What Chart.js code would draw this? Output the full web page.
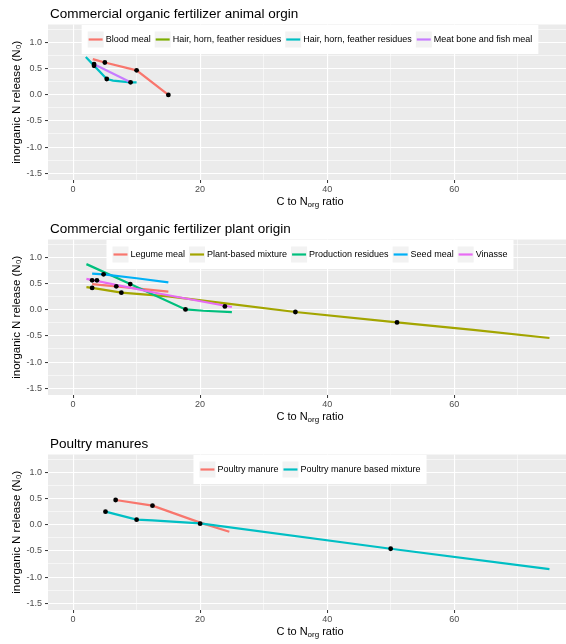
<!DOCTYPE html>
<html>
<head>
<meta charset="utf-8">
<script src="https://cdn.jsdelivr.net/npm/chart.js"></script>
<style>
html, body { margin: 0; padding: 0; background: #fff; overflow: hidden; width: 566px; height: 644px; }
.panel { position: absolute; left: 0; width: 576px; height: 215px; }
</style>
</head>
<body>
<div class="panel" style="top:0px"><canvas id="animal" width="576" height="215"></canvas></div>
<div class="panel" style="top:215px"><canvas id="plant" width="576" height="215"></canvas></div>
<div class="panel" style="top:430px"><canvas id="poultry" width="576" height="215"></canvas></div>
<script>
const xTicks = [0, 20, 40, 60]
const xMinorTicks = [10, 30, 50, 70]
const yTicks = [-1.5, -1.0, -0.5, 0.0, 0.5, 1.0]
const yMinorTicks = [-1.25, -0.75, -0.25, 0.25, 0.75, 1.25]
const xTitle = ['C to N', 'org', ' ratio']
const yTitle = 'inorganic N release (N\u2080)'

// panel 1: animal origin
const animalTitle = 'Commercial organic fertilizer animal orgin'
const animalLabels = ['Blood meal', 'Hair, horn, feather residues', 'Hair, horn, feather residues', 'Meat bone and fish meal']
const animalColors = ['#F8766D', '#7CAE00', '#00BFC4', '#C77CFF']
const bloodMealX = [3.1, 5.0, 10.0, 15.0]
const bloodMealY = [0.68, 0.615, 0.465, -0.005]
const hairGreenX = []
const hairGreenY = []
const hairCyanX = [2.0, 3.3, 5.3, 6.3, 9.05, 10.0]
const hairCyanY = [0.72, 0.555, 0.3, 0.27, 0.236, 0.236]
const meatBoneX = [3.3, 9.05]
const meatBoneY = [0.58, 0.236]
const animalDotX = [3.3, 3.3, 5.0, 10.0, 15.0, 5.3, 9.05]
const animalDotY = [0.585, 0.553, 0.615, 0.465, -0.005, 0.3, 0.236]

// panel 2: plant origin
const plantTitle = 'Commercial organic fertilizer plant origin'
const plantLabels = ['Legume meal', 'Plant-based mixture', 'Production residues', 'Seed meal', 'Vinasse']
const plantColors = ['#F8766D', '#A3A500', '#00BF7D', '#00B0F6', '#E76BF3']
const legumeX = [3.0, 6.8, 15.0]
const legumeY = [0.49, 0.446, 0.345]
const plantMixX = [2.1, 3.0, 7.6, 15.0, 24.0, 35.0, 51.0, 63.0, 75.0]
const plantMixY = [0.43, 0.415, 0.325, 0.254, 0.12, -0.044, -0.243, -0.385, -0.54]
const residuesX = [2.1, 9.0, 17.7, 20.5, 25.0]
const residuesY = [0.87, 0.49, 0.005, -0.02, -0.045]
const seedMealX = [3.0, 4.8, 10.0, 15.0]
const seedMealY = [0.69, 0.675, 0.6, 0.522]
const vinasseX = [2.1, 13.5, 25.0]
const vinasseY = [0.587, 0.31, 0.052]
const plantDotX = [3.0, 3.75, 6.8, 4.8, 9.0, 17.7, 23.9, 3.0, 7.6, 35.0, 51.0]
const plantDotY = [0.56, 0.56, 0.446, 0.675, 0.49, 0.005, 0.063, 0.415, 0.325, -0.044, -0.243]

// panel 3: poultry
const poultryTitle = 'Poultry manures'
const poultryLabels = ['Poultry manure', 'Poultry manure based mixture']
const poultryColors = ['#F8766D', '#00BFC4']
const manureX = [6.7, 12.5, 20.0, 24.6]
const manureY = [0.472, 0.363, 0.04, -0.134]
const manureMixX = [5.1, 10.0, 12.5, 20.0, 50.0, 75.0]
const manureMixY = [0.249, 0.096, 0.082, 0.025, -0.459, -0.847]
const poultryDotX = [6.7, 12.5, 20.0, 5.1, 10.0, 50.0]
const poultryDotY = [0.472, 0.363, 0.019, 0.249, 0.096, -0.459]

const family = '"Liberation Sans", Arial, sans-serif'

function pts(xs, ys) {
  return xs.map((x, i) => ({x: x, y: ys[i]}))
}

const panelBg = {
  id: 'panelBg',
  beforeDraw(chart) {
    const a = chart.chartArea
    const ctx = chart.ctx
    ctx.save()
    ctx.fillStyle = '#EBEBEB'
    ctx.fillRect(a.left, a.top, a.right - a.left, a.bottom - a.top)
    ctx.restore()
  }
}

// title, x title with subscript, and the ggplot-like legend inside the panel
const overlay = {
  id: 'overlay',
  afterDraw(chart, args, opts) {
    const a = chart.chartArea
    const ctx = chart.ctx
    const cx = (a.left + a.right) / 2
    ctx.save()
    ctx.textBaseline = 'middle'
    ctx.textAlign = 'left'
    ctx.fillStyle = '#000'
    ctx.font = '13.5px ' + family
    ctx.fillText(opts.title, 50, 14)

    ctx.font = '11px ' + family
    const w1 = ctx.measureText(xTitle[0]).width
    const w3 = ctx.measureText(xTitle[2]).width
    ctx.font = '8px ' + family
    const w2 = ctx.measureText(xTitle[1]).width
    let x = cx - (w1 + w2 + w3) / 2
    const y = a.bottom + 21.5
    ctx.font = '11px ' + family
    ctx.fillText(xTitle[0], x, y)
    ctx.font = '8px ' + family
    ctx.fillText(xTitle[1], x + w1, y + 3.5)
    ctx.font = '11px ' + family
    ctx.fillText(xTitle[2], x + w1 + w2, y)

    const items = chart.data.datasets.filter(d => !d.isDots)
    ctx.font = '9px ' + family
    const widths = items.map(d => ctx.measureText(d.label).width)
    const keyW = 16, pad = 6, gap = 2, itemGap = 4
    const total = pad * 2 + items.length * (keyW + gap) + widths.reduce((s, w) => s + w, 0) + (items.length - 1) * itemGap
    let lx = cx - total / 2
    const top = a.top + 0.5, h = 29, cy = top + h / 2
    ctx.fillStyle = '#fff'
    ctx.fillRect(lx, top, total, h)
    lx += pad
    items.forEach((d, i) => {
      ctx.fillStyle = '#F2F2F2'
      ctx.fillRect(lx, cy - keyW / 2, keyW, keyW)
      ctx.strokeStyle = d.borderColor
      ctx.lineWidth = 2.2
      ctx.beginPath()
      ctx.moveTo(lx + 1, cy)
      ctx.lineTo(lx + keyW - 1, cy)
      ctx.stroke()
      lx += keyW + gap
      ctx.fillStyle = '#000'
      ctx.fillText(d.label, lx, cy + 0.5)
      lx += widths[i] + itemGap
    })
    ctx.restore()
  }
}

function makeChart(id, title, labels, colors, xs, ys, dotX, dotY) {
  const n = labels.length
  const datasets = labels.map((lab, i) => ({
    label: lab,
    data: pts(xs[i], ys[i]),
    showLine: true,
    borderColor: colors[i],
    backgroundColor: colors[i],
    borderWidth: 2.2,
    pointRadius: 0,
    pointHoverRadius: 0,
    order: n - i
  }))
  datasets.push({
    label: 'points',
    isDots: true,
    data: pts(dotX, dotY),
    showLine: false,
    pointRadius: 2.4,
    pointBackgroundColor: '#000',
    pointBorderWidth: 0,
    order: -1
  })
  return new Chart(id, {
    type: 'scatter',
    data: {datasets: datasets},
    plugins: [panelBg, overlay],
    options: {
      responsive: false,
      animation: false,
      devicePixelRatio: 1,
      layout: {padding: {top: 24.5, left: 0, right: 0, bottom: 0}},
      plugins: {
        legend: {display: false},
        tooltip: {enabled: false},
        overlay: {title: title}
      },
      scales: {
        x: {
          type: 'linear',
          min: -3.95,
          max: 78.55,
          afterBuildTicks: s => { s.ticks = xTicks.concat(xMinorTicks).sort((a, b) => a - b).map(v => ({value: v})) },
          afterFit: s => { s.height = 35 },
          ticks: {
            autoSkip: false, maxRotation: 0, padding: 1, color: '#4D4D4D',
            font: {family: family, size: 9},
            callback: v => xTicks.includes(v) ? String(v) : ''
          },
          grid: {
            color: '#FFFFFF',
            lineWidth: c => (c.tick && xTicks.includes(c.tick.value)) ? 1.1 : 0.55,
            tickColor: c => (c.tick && xTicks.includes(c.tick.value)) ? '#333333' : 'rgba(0,0,0,0)',
            tickLength: 3,
            tickWidth: 1
          },
          border: {display: false}
        },
        y: {
          type: 'linear',
          min: -1.628,
          max: 1.34,
          afterBuildTicks: s => { s.ticks = yTicks.concat(yMinorTicks).sort((a, b) => a - b).map(v => ({value: v})) },
          afterFit: s => { s.width = 48 },
          ticks: {
            autoSkip: false, padding: 3, color: '#4D4D4D',
            font: {family: family, size: 9},
            callback: v => yTicks.includes(v) ? v.toFixed(1) : ''
          },
          grid: {
            color: '#FFFFFF',
            lineWidth: c => (c.tick && yTicks.includes(c.tick.value)) ? 1.1 : 0.55,
            tickColor: c => (c.tick && yTicks.includes(c.tick.value)) ? '#333333' : 'rgba(0,0,0,0)',
            tickLength: 3,
            tickWidth: 1
          },
          border: {display: false},
          title: {
            display: true,
            text: yTitle,
            color: '#000',
            font: {family: family, size: 11.5},
            padding: {top: 9.8, bottom: 0}
          }
        }
      }
    }
  })
}

makeChart('animal', animalTitle, animalLabels, animalColors,
  [bloodMealX, hairGreenX, hairCyanX, meatBoneX],
  [bloodMealY, hairGreenY, hairCyanY, meatBoneY],
  animalDotX, animalDotY)

makeChart('plant', plantTitle, plantLabels, plantColors,
  [legumeX, plantMixX, residuesX, seedMealX, vinasseX],
  [legumeY, plantMixY, residuesY, seedMealY, vinasseY],
  plantDotX, plantDotY)

makeChart('poultry', poultryTitle, poultryLabels, poultryColors,
  [manureX, manureMixX],
  [manureY, manureMixY],
  poultryDotX, poultryDotY)
</script>
</body>
</html>
